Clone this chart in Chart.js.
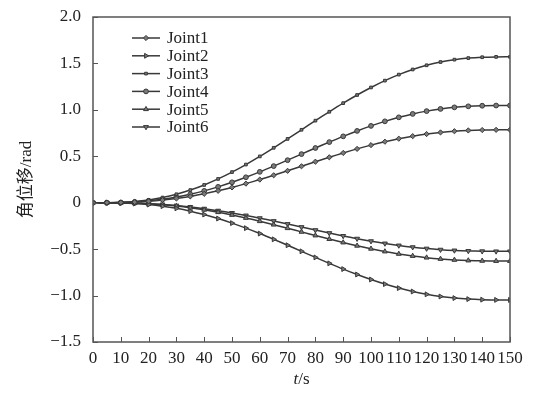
<!DOCTYPE html>
<html>
<head>
<meta charset="utf-8">
<script src="https://cdn.jsdelivr.net/npm/chart.js@4/dist/chart.umd.min.js"></script>
<style>
  html, body { margin: 0; padding: 0; background: #fff; }
  #wrap { width: 533px; height: 396px; }
</style>
</head>
<body>
<div id="wrap"><canvas id="chart"></canvas></div>
<script>
// Time axis (s), one sample every 5 s
const times = [0, 5, 10, 15, 20, 25, 30, 35, 40, 45, 50, 55, 60, 65, 70, 75,
    80, 85, 90, 95, 100, 105, 110, 115, 120, 125, 130, 135, 140, 145, 150];

// Joint angles (rad)
const joint1 = [0, 0.0003, 0.0021, 0.0067, 0.0151, 0.0279, 0.0455, 0.0681, 0.0956, 0.128,
    0.1648, 0.2054, 0.2492, 0.2956, 0.3434, 0.3925, 0.4416, 0.4894, 0.5358, 0.5796,
    0.6202, 0.657, 0.6894, 0.7169, 0.7395, 0.7571, 0.7699, 0.7782, 0.7829, 0.7847, 0.785];
const joint2 = [0, -0.0004, -0.0028, -0.009, -0.0201, -0.0372, -0.0606, -0.0908, -0.1275, -0.1707,
    -0.2198, -0.2739, -0.3323, -0.3942, -0.458, -0.5235, -0.589, -0.6528, -0.7147, -0.7731,
    -0.8272, -0.8763, -0.9195, -0.9562, -0.9864, -1.0098, -1.0269, -1.038, -1.0442, -1.0466, -1.047];
const joint3 = [0, 0.0005, 0.0042, 0.0134, 0.0302, 0.0558, 0.091, 0.1362, 0.1913, 0.2561,
    0.3298, 0.411, 0.4986, 0.5915, 0.6872, 0.7855, 0.8838, 0.9795, 1.0724, 1.160,
    1.2412, 1.3149, 1.3797, 1.4348, 1.480, 1.5152, 1.5408, 1.5575, 1.5668, 1.5705, 1.571];
const joint4 = [0, 0.0004, 0.0028, 0.009, 0.0201, 0.0372, 0.0606, 0.0908, 0.1275, 0.1707,
    0.2198, 0.2739, 0.3323, 0.3942, 0.458, 0.5235, 0.589, 0.6528, 0.7147, 0.7731,
    0.8272, 0.8763, 0.9195, 0.9562, 0.9864, 1.0098, 1.0269, 1.038, 1.0442, 1.0466, 1.047];
const joint5 = [0, -0.0002, -0.0017, -0.0054, -0.0121, -0.0223, -0.0364, -0.0544, -0.0765, -0.1024,
    -0.1318, -0.1643, -0.1993, -0.2364, -0.2747, -0.314, -0.3533, -0.3916, -0.4287, -0.4637,
    -0.4962, -0.5256, -0.5515, -0.5736, -0.5916, -0.6057, -0.6159, -0.6226, -0.6263, -0.6278, -0.628];
const joint6 = [0, -0.0002, -0.0014, -0.0045, -0.0101, -0.0186, -0.0303, -0.0454, -0.0638, -0.0854,
    -0.11, -0.1371, -0.1663, -0.1973, -0.2292, -0.262, -0.2948, -0.3267, -0.3577, -0.3869,
    -0.414, -0.4386, -0.4602, -0.4786, -0.4937, -0.5054, -0.5139, -0.5195, -0.5226, -0.5238, -0.524];

const seriesNames = ['Joint1', 'Joint2', 'Joint3', 'Joint4', 'Joint5', 'Joint6'];
const yTickValues = [2.0, 1.5, 1.0, 0.5, 0, -0.5, -1.0, -1.5];
const xTickValues = [0, 10, 20, 30, 40, 50, 60, 70, 80, 90, 100, 110, 120, 130, 140, 150];

const LINE = '#383838';
const FILL = '#7a7a7a';
const SERIF = "'Liberation Serif', 'Times New Roman', serif";

const markers = [
    { style: 'rectRot', rot: 0, r: 2.6 },
    { style: 'triangle', rot: 90, r: 2.8 },
    { style: 'rect', rot: 0, r: 1.9 },
    { style: 'circle', rot: 0, r: 2.4 },
    { style: 'triangle', rot: 0, r: 2.8 },
    { style: 'triangle', rot: 180, r: 2.8 }
];

function pts(values) {
    return times.map((t, i) => ({ x: t, y: values[i] }));
}

const datasets = [joint1, joint2, joint3, joint4, joint5, joint6].map((vals, i) => ({
    label: seriesNames[i],
    data: pts(vals),
    borderColor: LINE,
    borderWidth: 1.5,
    backgroundColor: FILL,
    pointStyle: markers[i].style,
    pointRotation: markers[i].rot,
    pointRadius: markers[i].r,
    pointBorderColor: LINE,
    pointBorderWidth: 1,
    tension: 0.3,
    fill: false
}));

// Frame, inward tick marks, legend and the x title (italic t)
const decorations = {
    id: 'decorations',
    afterDraw(chart) {
        const ctx = chart.ctx;
        const a = chart.chartArea;
        const xs = chart.scales.x, ys = chart.scales.y;
        ctx.save();
        ctx.strokeStyle = '#555';
        ctx.lineWidth = 1.5;
        ctx.strokeRect(a.left, a.top, a.right - a.left, a.bottom - a.top);

        ctx.lineWidth = 1;
        ctx.beginPath();
        xTickValues.forEach(v => {
            const px = Math.round(xs.getPixelForValue(v)) + 0.5;
            ctx.moveTo(px, a.bottom);
            ctx.lineTo(px, a.bottom - 5);
        });
        yTickValues.forEach(v => {
            const py = Math.round(ys.getPixelForValue(v)) + 0.5;
            ctx.moveTo(a.left, py);
            ctx.lineTo(a.left + 5, py);
        });
        ctx.stroke();

        // legend
        ctx.font = '17px ' + SERIF;
        ctx.textBaseline = 'middle';
        chart.data.datasets.forEach((ds, i) => {
            const y = 38 + i * 17.8;
            ctx.strokeStyle = LINE;
            ctx.lineWidth = 1.5;
            ctx.beginPath();
            ctx.moveTo(132, y);
            ctx.lineTo(160, y);
            ctx.stroke();
            ctx.fillStyle = FILL;
            ctx.lineWidth = 1;
            Chart.helpers.drawPoint(ctx, {
                pointStyle: ds.pointStyle, rotation: ds.pointRotation,
                radius: ds.pointRadius, borderWidth: 1
            }, 146, y);
            ctx.fillStyle = '#222';
            ctx.fillText(ds.label, 167, y + 1);
        });

        // x axis title: t/s
        const cx = (a.left + a.right) / 2;
        ctx.textBaseline = 'alphabetic';
        ctx.fillStyle = '#222';
        ctx.font = 'italic 17px ' + SERIF;
        const wT = ctx.measureText('t').width;
        ctx.font = '17px ' + SERIF;
        const wS = ctx.measureText('/s').width;
        const x0 = cx - (wT + wS) / 2;
        ctx.font = 'italic 17px ' + SERIF;
        ctx.fillText('t', x0, 384);
        ctx.font = '17px ' + SERIF;
        ctx.fillText('/s', x0 + wT, 384);
        ctx.restore();
    }
};

new Chart(document.getElementById('chart'), {
    type: 'line',
    data: { datasets: datasets },
    options: {
        responsive: true,
        maintainAspectRatio: false,
        animation: false,
        layout: { padding: { top: 17, right: 23, left: 0, bottom: 0 } },
        plugins: { legend: { display: false }, tooltip: { enabled: false } },
        scales: {
            x: {
                type: 'linear',
                min: 0,
                max: 150,
                afterBuildTicks(scale) { scale.ticks = xTickValues.map(v => ({ value: v })); },
                afterFit(scale) { scale.height = 54; },
                grid: { display: false, drawTicks: false },
                border: { display: false },
                ticks: {
                    color: '#222',
                    padding: 6,
                    maxRotation: 0,
                    autoSkip: false,
                    font: { family: SERIF, size: 17 }
                }
            },
            y: {
                min: -1.5,
                max: 2.0,
                afterBuildTicks(scale) { scale.ticks = yTickValues.map(v => ({ value: v })); },
                afterFit(scale) {
                    scale.width = 93;
                    scale.paddingTop = 0;
                    scale.paddingBottom = 0;
                },
                grid: { display: false, drawTicks: false },
                border: { display: false },
                ticks: {
                    color: '#222',
                    padding: 12,
                    font: { family: SERIF, size: 17 },
                    callback(v) {
                        if (v === 0) return '0';
                        const s = Math.abs(v).toFixed(1);
                        return v < 0 ? '\u2212' + s : s;
                    }
                },
                title: {
                    display: true,
                    text: '角位移/rad',
                    color: '#222',
                    padding: { top: 16, bottom: 0 },
                    font: { family: "'Liberation Serif', 'Noto Sans CJK SC', serif", size: 17 }
                }
            }
        }
    },
    plugins: [decorations]
});
</script>
</body>
</html>
